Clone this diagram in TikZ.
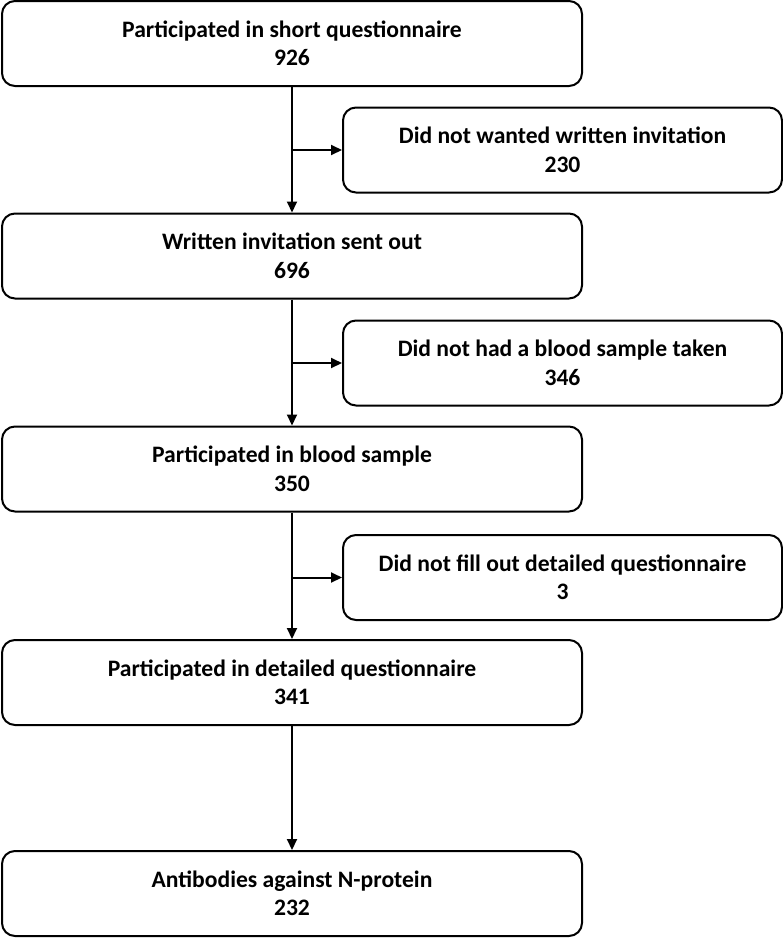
\documentclass[tikz,border=0pt]{standalone}
\usepackage{fontspec}
\setmainfont{Carlito}
\usetikzlibrary{arrows.meta}
\begin{document}
\begin{tikzpicture}[x=1pt,y=-1pt,
  box/.style={draw=black, line width=2pt, rounded corners=13pt, align=center,
    font=\fontsize{23.6}{28.5}\selectfont\bfseries, inner sep=0pt},
  mainbox/.style={box, minimum width=580pt, minimum height=85pt},
  sidebox/.style={box, minimum width=439pt, minimum height=85pt},
  arr/.style={line width=2pt, -{Triangle[length=11pt,width=10pt]}}]
\useasboundingbox (0,0) rectangle (783,938);
\node[mainbox] (b1) at (292,43.5) {Participated in short questionnaire\\926};
\node[sidebox] (s1) at (562.5,150) {Did not wanted written invitation\\230};
\node[mainbox] (b2) at (292,256) {Written invitation sent out\\696};
\node[sidebox] (s2) at (562.5,363) {Did not had a blood sample taken\\346};
\node[mainbox] (b3) at (292,469) {Participated in blood sample\\350};
\node[sidebox] (s3) at (562.5,577.5) {Did not fill out detailed questionnaire\\3};
\node[mainbox] (b4) at (292,682.5) {Participated in detailed questionnaire\\341};
\node[mainbox] (b5) at (292,893.5) {Antibodies against N-protein\\232};
\draw[arr] (b1.south) -- (b2.north);
\draw[arr] (b1.south |- s1.west) -- (s1.west);
\draw[arr] (b2.south) -- (b3.north);
\draw[arr] (b2.south |- s2.west) -- (s2.west);
\draw[arr] (b3.south) -- (b4.north);
\draw[arr] (b3.south |- s3.west) -- (s3.west);
\draw[arr] (b4.south) -- (b5.north);
\end{tikzpicture}
\end{document}
